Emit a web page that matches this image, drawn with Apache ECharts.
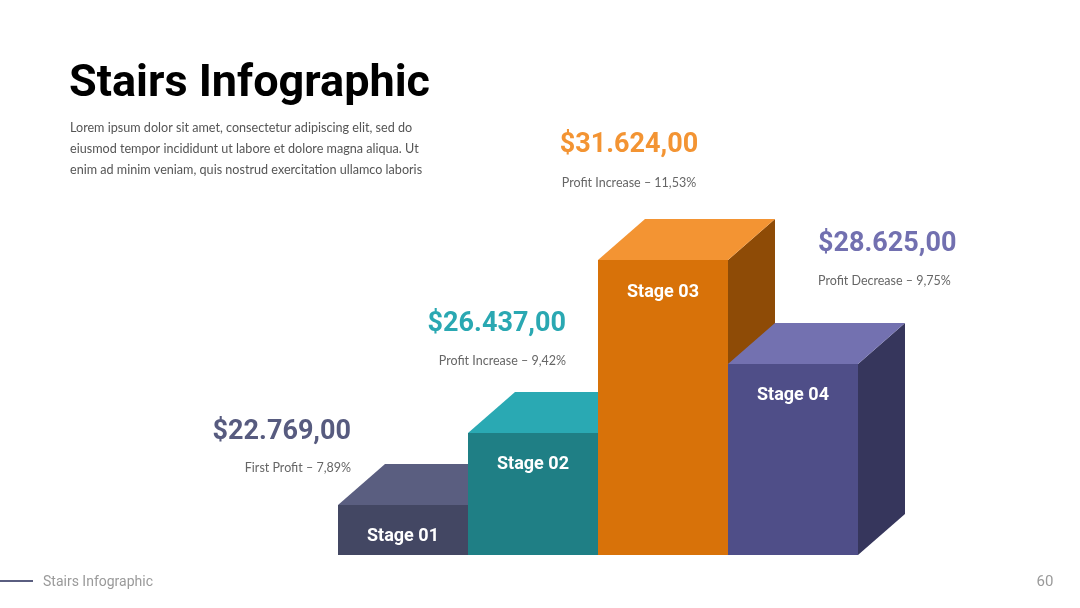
<!DOCTYPE html>
<html>
<head>
<meta charset="utf-8">
<title>Stairs Infographic</title>
<script src="https://cdn.jsdelivr.net/npm/echarts@6/dist/echarts.min.js"></script>
<style>
  html, body { margin: 0; padding: 0; background: #fff; }
  #main { width: 1080px; height: 608px; }
</style>
</head>
<body>
<div id="main"></div>
<script>
// data
var stages = ['Stage 01', 'Stage 02', 'Stage 03', 'Stage 04'];
var stepHeights = [16.7, 40.7, 98.3, 63.7];   // height of each step (axis 0..100)
var amounts = ['$22.769,00', '$26.437,00', '$31.624,00', '$28.625,00'];
var notes = ['First Profit – 7,89%', 'Profit Increase – 9,42%', 'Profit Increase – 11,53%', 'Profit Decrease – 9,75%'];
var bodyLines = [
    'Lorem ipsum dolor sit amet, consectetur adipiscing elit, sed do',
    'eiusmod tempor incididunt ut labore et dolore magna aliqua. Ut',
    'enim ad minim veniam, quis nostrud exercitation ullamco laboris'
];

// colours per step: front, top, side
var faceColors = [
    { front: '#434763', top: '#5a5e80', side: '#2f3249' },
    { front: '#1f7f85', top: '#2aa9b3', side: '#155a5e' },
    { front: '#d87209', top: '#f39433', side: '#8e4b06' },
    { front: '#4f4e88', top: '#7371b0', side: '#36365c' }
];
var amountColors = ['#575b7f', '#2aa8b2', '#f39433', '#7270b0'];

// where the amount / note texts sit
var annotationPos = [
    { x: 351, y: 432, ny: 468, align: 'right' },
    { x: 566, y: 324, ny: 361, align: 'right' },
    { x: 629, y: 145, ny: 183, align: 'center' },
    { x: 818, y: 244, ny: 281, align: 'left' }
];

var depthX = 47, depthY = 41;
var chart = echarts.init(document.getElementById('main'));

function renderStep(params, api) {
    var idx = params.dataIndex;
    var val = api.value(1);
    var top = api.coord([idx, val]);
    var base = api.coord([idx, 0]);
    var w = api.size([1, 0])[0];
    var x0 = top[0] - w / 2, x1 = top[0] + w / 2;
    var yT = top[1], yB = base[1];
    var c = faceColors[idx];
    return {
        type: 'group',
        children: [
            {
                type: 'polygon',
                shape: { points: [[x1, yT], [x1 + depthX, yT - depthY], [x1 + depthX, yB - depthY], [x1, yB]] },
                style: { fill: c.side }
            },
            {
                type: 'polygon',
                shape: { points: [[x0, yT], [x0 + depthX, yT - depthY], [x1 + depthX, yT - depthY], [x1, yT]] },
                style: { fill: c.top }
            },
            {
                type: 'rect',
                shape: { x: x0, y: yT, width: w, height: yB - yT },
                style: { fill: c.front }
            },
            {
                type: 'text',
                style: {
                    text: stages[idx],
                    x: top[0], y: yT + 32,
                    align: 'center', verticalAlign: 'middle',
                    fill: '#fff',
                    font: 'bold 18px Roboto'
                }
            }
        ]
    };
}

var graphics = [
    {
        type: 'text',
        style: { text: 'Stairs Infographic', x: 69, y: 85, textVerticalAlign: 'middle', verticalAlign: 'middle', fill: '#000', font: 'bold 45px Roboto' }
    },
    {
        type: 'line', shape: { x1: 0, y1: 581, x2: 33, y2: 581 },
        style: { stroke: '#5a5e80', lineWidth: 2 }
    },
    {
        type: 'text',
        style: { text: 'Stairs Infographic', x: 43, y: 582, textVerticalAlign: 'middle', verticalAlign: 'middle', fill: '#9a9a9a', font: '14px Roboto' }
    },
    {
        type: 'text',
        style: { text: '60', x: 1045, y: 582, textAlign: 'center', align: 'center', textVerticalAlign: 'middle', verticalAlign: 'middle', fill: '#9a9a9a', font: '15px Roboto' }
    }
];
bodyLines.forEach(function (line, i) {
    graphics.push({
        type: 'text',
        style: {
            text: line, x: 70, y: 128 + i * 21,
            textVerticalAlign: 'middle', verticalAlign: 'middle',
            fill: '#555', font: '12.6px Lato'
        }
    });
});
amounts.forEach(function (a, i) {
    var p = annotationPos[i];
    graphics.push({
        type: 'text',
        style: {
            text: a, x: p.x, y: p.y,
            textAlign: p.align, align: p.align,
            textVerticalAlign: 'middle', verticalAlign: 'middle',
            fill: amountColors[i], font: 'bold 27px Roboto'
        }
    });
    graphics.push({
        type: 'text',
        style: {
            text: notes[i], x: p.x, y: p.ny,
            textAlign: p.align, align: p.align,
            textVerticalAlign: 'middle', verticalAlign: 'middle',
            fill: '#666', font: '12.5px Lato'
        }
    });
});

var option = {
    animation: false,
    grid: { left: 338, right: 222, top: 255, bottom: 53 },
    xAxis: {
        type: 'category',
        data: stages,
        show: false
    },
    yAxis: {
        type: 'value',
        min: 0,
        max: 100,
        show: false
    },
    series: [{
        type: 'custom',
        renderItem: renderStep,
        data: stepHeights.map(function (v, i) { return [i, v]; })
    }],
    graphic: graphics
};

chart.setOption(option);
</script>
</body>
</html>
